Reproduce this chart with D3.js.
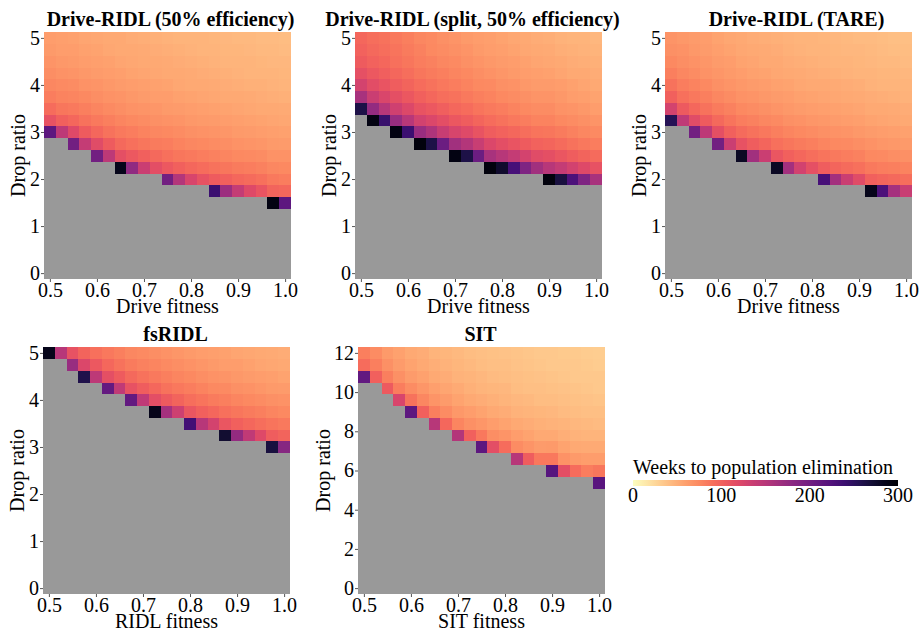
<!DOCTYPE html>
<html>
<head>
<meta charset="utf-8">
<script src="https://cdn.jsdelivr.net/npm/d3@7"></script>
<style>
  body { margin: 0; background: #fff; }
  svg { display: block; }
  text { font-family: "Liberation Serif", "Times New Roman", serif; fill: #000; }
</style>
</head>
<body>
<svg id="chart" width="921" height="634"></svg>
<script>
// Grid of simulated parameter values
const fitnessLevels = [0.5, 0.525, 0.55, 0.575, 0.6, 0.625, 0.65, 0.675, 0.7, 0.725, 0.75,
                       0.775, 0.8, 0.825, 0.85, 0.875, 0.9, 0.925, 0.95, 0.975, 1.0];
const dropRatios = [0, 0.25, 0.5, 0.75, 1, 1.25, 1.5, 1.75, 2, 2.25, 2.5,
                    2.75, 3, 3.25, 3.5, 3.75, 4, 4.25, 4.5, 4.75, 5];
const sitDropRatios = [0, 0.6, 1.2, 1.8, 2.4, 3, 3.6, 4.2, 4.8, 5.4, 6,
                       6.6, 7.2, 7.8, 8.4, 9, 9.6, 10.2, 10.8, 11.4, 12];

// Axis tick labels
const fitnessTicks = [0.5, 0.6, 0.7, 0.8, 0.9, 1.0];
const dropTicks = [0, 1, 2, 3, 4, 5];
const sitDropTicks = [0, 2, 4, 6, 8, 10, 12];
const legendTicks = [0, 100, 200, 300];

// For each fitness column: index of the lowest drop ratio that eliminates the population,
// and the weeks to elimination from that drop ratio upward. Lower drop ratios fail (grey).
const ridl50Start = [12, 12, 11, 11, 10, 10, 9, 9, 9, 9, 8, 8, 8, 8, 7, 7, 7, 7, 7, 6, 6];
const ridl50Weeks = [
  [215, 112, 92, 82, 76, 71, 67, 64, 62],
  [145, 100, 86, 78, 73, 69, 65, 62, 60],
  [200, 120, 96, 84, 77, 72, 67, 64, 61, 59],
  [140, 104, 88, 80, 74, 69, 65, 62, 59, 57],
  [200, 118, 96, 84, 77, 71, 67, 63, 60, 58, 56],
  [145, 104, 88, 80, 73, 69, 65, 61, 59, 56, 55],
  [285, 114, 94, 84, 77, 71, 67, 63, 60, 57, 55, 54],
  [178, 106, 90, 81, 74, 69, 65, 61, 58, 56, 54, 52],
  [135, 100, 86, 78, 72, 67, 63, 60, 57, 55, 53, 51],
  [115, 94, 83, 76, 70, 66, 62, 59, 56, 54, 52, 50],
  [200, 106, 90, 81, 74, 69, 64, 61, 58, 55, 53, 51, 49],
  [152, 100, 86, 78, 72, 67, 63, 59, 56, 54, 52, 50, 48],
  [125, 96, 84, 76, 70, 65, 61, 58, 55, 53, 51, 49, 47],
  [112, 92, 81, 74, 68, 64, 60, 57, 54, 52, 50, 48, 47],
  [240, 104, 88, 79, 72, 67, 63, 59, 56, 53, 51, 49, 47, 46],
  [168, 100, 86, 77, 71, 66, 62, 58, 55, 52, 50, 48, 46, 45],
  [140, 96, 83, 75, 69, 64, 60, 57, 54, 51, 49, 47, 46, 44],
  [120, 93, 81, 73, 67, 63, 59, 56, 53, 50, 48, 47, 45, 44],
  [110, 90, 79, 72, 66, 62, 58, 55, 52, 50, 48, 46, 44, 43],
  [290, 98, 84, 76, 69, 64, 60, 57, 54, 51, 49, 47, 45, 44, 43],
  [215, 95, 82, 74, 68, 63, 59, 56, 53, 50, 48, 46, 45, 43, 42]
];

const splitStart = [14, 13, 13, 12, 12, 11, 11, 11, 10, 10, 10, 9, 9, 9, 9, 9, 8, 8, 8, 8, 8];
const splitWeeks = [
  [262, 160, 128, 113, 104, 99, 95],
  [290, 175, 135, 117, 106, 99, 94, 91],
  [242, 150, 124, 110, 101, 95, 91, 88],
  [290, 172, 132, 114, 103, 96, 90, 87, 84],
  [240, 148, 121, 107, 98, 91, 86, 83, 80],
  [292, 170, 130, 111, 100, 92, 86, 82, 79, 76],
  [262, 155, 123, 106, 96, 88, 83, 79, 75, 73],
  [205, 138, 115, 101, 91, 85, 80, 76, 72, 70],
  [290, 165, 126, 107, 96, 88, 82, 77, 73, 70, 67],
  [262, 152, 119, 102, 92, 84, 78, 74, 70, 67, 64],
  [205, 136, 111, 97, 87, 80, 75, 71, 67, 64, 62],
  [292, 160, 122, 103, 92, 84, 78, 73, 69, 65, 62, 60],
  [275, 150, 116, 99, 88, 81, 75, 70, 66, 63, 60, 58],
  [232, 140, 110, 95, 85, 78, 72, 68, 64, 61, 58, 56],
  [190, 128, 104, 91, 81, 75, 70, 65, 62, 59, 56, 54],
  [165, 118, 99, 87, 78, 72, 67, 63, 60, 57, 54, 52],
  [292, 150, 114, 97, 86, 78, 72, 67, 63, 59, 56, 53, 51],
  [265, 140, 108, 93, 83, 75, 69, 65, 61, 57, 54, 51, 49],
  [228, 130, 103, 89, 79, 72, 67, 62, 59, 55, 52, 50, 48],
  [190, 120, 98, 85, 76, 70, 65, 60, 57, 54, 51, 49, 47],
  [160, 112, 93, 81, 73, 67, 62, 58, 55, 52, 50, 47, 45]
];

const tareStart = [13, 13, 12, 12, 11, 11, 10, 10, 10, 9, 9, 9, 9, 8, 8, 8, 8, 7, 7, 7, 7];
const tareWeeks = [
  [255, 128, 100, 88, 80, 74, 70, 67],
  [143, 105, 90, 82, 76, 71, 68, 65],
  [200, 118, 96, 85, 78, 72, 68, 65, 63],
  [145, 104, 89, 80, 74, 69, 66, 63, 61],
  [200, 114, 94, 83, 76, 70, 66, 63, 60, 58],
  [135, 100, 87, 79, 72, 67, 64, 61, 58, 56],
  [280, 112, 93, 82, 75, 69, 65, 61, 58, 56, 54],
  [165, 102, 88, 79, 72, 67, 63, 59, 57, 54, 52],
  [135, 97, 85, 76, 70, 65, 61, 58, 55, 53, 51],
  [280, 108, 90, 80, 73, 67, 63, 59, 56, 54, 52, 50],
  [163, 100, 86, 77, 70, 65, 61, 58, 55, 52, 50, 49],
  [130, 95, 83, 75, 68, 63, 59, 56, 53, 51, 49, 48],
  [113, 91, 80, 72, 66, 62, 58, 55, 52, 50, 48, 47],
  [232, 102, 87, 77, 70, 65, 60, 57, 54, 51, 49, 47, 46],
  [163, 97, 84, 75, 68, 63, 59, 56, 53, 50, 48, 46, 45],
  [135, 93, 81, 73, 67, 62, 58, 54, 52, 49, 47, 45, 44],
  [118, 90, 79, 71, 65, 60, 57, 53, 51, 48, 46, 45, 43],
  [285, 100, 84, 75, 68, 63, 58, 55, 52, 49, 47, 45, 44, 43],
  [228, 97, 82, 73, 66, 61, 57, 54, 51, 48, 46, 44, 43, 42],
  [162, 94, 80, 71, 65, 60, 56, 53, 50, 48, 46, 44, 42, 41],
  [137, 91, 78, 70, 64, 59, 55, 52, 49, 47, 45, 43, 42, 41]
];

const fsridlStart = [20, 20, 19, 18, 18, 17, 17, 16, 16, 15, 15, 15, 14, 14, 14, 13, 13, 13, 13, 12, 12];
const fsridlWeeks = [
  [285],
  [150],
  [172, 112],
  [260, 122, 98],
  [145, 106, 90],
  [210, 114, 95, 85],
  [142, 104, 89, 80],
  [212, 112, 94, 83, 76],
  [143, 102, 88, 79, 73],
  [285, 115, 95, 84, 77, 71],
  [162, 105, 89, 80, 73, 68],
  [133, 98, 85, 77, 71, 66],
  [235, 108, 91, 81, 74, 68, 64],
  [150, 100, 87, 78, 71, 66, 62],
  [128, 95, 83, 75, 69, 64, 60],
  [272, 108, 90, 80, 73, 67, 62, 59],
  [175, 100, 86, 77, 70, 65, 61, 57],
  [142, 95, 83, 74, 68, 63, 59, 56],
  [120, 91, 80, 72, 66, 61, 57, 54],
  [265, 103, 87, 77, 70, 64, 60, 56, 53],
  [185, 98, 84, 75, 68, 63, 58, 55, 52]
];

const sitStart = [18, 18, 17, 16, 15, 15, 14, 14, 13, 13, 12, 12, 12, 11, 11, 11, 10, 10, 10, 10, 9];
const sitWeeks = [
  [212, 92, 80],
  [100, 80, 72],
  [105, 80, 70, 64],
  [125, 82, 70, 63, 59],
  [215, 88, 72, 63, 58, 54],
  [100, 76, 66, 59, 55, 52],
  [150, 80, 67, 60, 55, 51, 48],
  [95, 72, 63, 57, 52, 49, 46],
  [152, 77, 65, 58, 53, 49, 46, 44],
  [100, 70, 61, 55, 50, 47, 44, 42],
  [215, 85, 66, 58, 52, 48, 45, 42, 40],
  [115, 71, 61, 54, 50, 46, 43, 41, 39],
  [92, 67, 58, 52, 48, 45, 42, 40, 38],
  [150, 72, 61, 54, 49, 45, 42, 40, 38, 37],
  [102, 67, 58, 52, 47, 44, 41, 39, 37, 36],
  [85, 63, 55, 50, 46, 42, 40, 38, 36, 35],
  [220, 85, 64, 55, 49, 45, 42, 39, 37, 35, 34],
  [115, 68, 58, 51, 47, 43, 40, 38, 36, 35, 33],
  [92, 64, 55, 49, 45, 42, 39, 37, 35, 34, 33],
  [82, 61, 53, 48, 44, 41, 38, 36, 35, 33, 32],
  [218, 86, 62, 53, 47, 43, 40, 37, 35, 34, 32, 31]
];

// Layout
const W = 247, H = 247;
const FONT = 20;
const SERIF = '"Liberation Serif", "Times New Roman", serif';
const failColor = "#999999";
const colour = d3.scaleSequential(t => d3.interpolateMagma(1 - t)).domain([0, 300]);

const panels = [
  { title: "Drive-RIDL (50% efficiency)", xLabel: "Drive fitness", start: ridl50Start, weeks: ridl50Weeks,
    ys: dropRatios, yTicks: dropTicks, left: 44, top: 32, titleDx: 3, yTitleGap: 19 },
  { title: "Drive-RIDL (split, 50% efficiency)", xLabel: "Drive fitness", start: splitStart, weeks: splitWeeks,
    ys: dropRatios, yTicks: dropTicks, left: 355, top: 32, titleDx: -6, yTitleGap: 19 },
  { title: "Drive-RIDL (TARE)", xLabel: "Drive fitness", start: tareStart, weeks: tareWeeks,
    ys: dropRatios, yTicks: dropTicks, left: 665, top: 32, titleDx: 8, yTitleGap: 19 },
  { title: "fsRIDL", xLabel: "RIDL fitness", start: fsridlStart, weeks: fsridlWeeks,
    ys: dropRatios, yTicks: dropTicks, left: 43, top: 347, titleDx: 9, yTitleGap: 19 },
  { title: "SIT", xLabel: "SIT fitness", start: sitStart, weeks: sitWeeks,
    ys: sitDropRatios, yTicks: sitDropTicks, left: 358, top: 347, titleDx: -1, yTitleGap: 28 }
];

const svg = d3.select("#chart");

panels.forEach(p => {
  const g = svg.append("g");
  const xStep = fitnessLevels[1] - fitnessLevels[0];
  const yStep = p.ys[1] - p.ys[0];
  const x = d3.scaleLinear()
    .domain([fitnessLevels[0] - xStep / 2, fitnessLevels[fitnessLevels.length - 1] + xStep / 2])
    .range([p.left, p.left + W]);
  const y = d3.scaleLinear()
    .domain([p.ys[0] - yStep / 2, p.ys[p.ys.length - 1] + yStep / 2])
    .range([p.top + H, p.top]);

  const cells = [];
  fitnessLevels.forEach((f, c) => {
    p.ys.forEach((d, r) => {
      const k = r - p.start[c];
      cells.push({ f, d, v: k >= 0 ? p.weeks[c][k] : null });
    });
  });

  g.append("g").selectAll("rect").data(cells).join("rect")
    .attr("x", d => x(d.f - xStep / 2))
    .attr("y", d => y(d.d + yStep / 2))
    .attr("width", d => x(d.f + xStep / 2) - x(d.f - xStep / 2) + 0.4)
    .attr("height", d => y(d.d - yStep / 2) - y(d.d + yStep / 2) + 0.4)
    .attr("fill", d => d.v == null ? failColor : colour(d.v))
    .attr("shape-rendering", "crispEdges");

  const xAxis = g.append("g")
    .attr("transform", `translate(0,${p.top + H})`)
    .call(d3.axisBottom(x).tickValues(fitnessTicks).tickFormat(d3.format(".1f")).tickSize(3).tickPadding(1));
  const yAxis = g.append("g")
    .attr("transform", `translate(${p.left},0)`)
    .call(d3.axisLeft(y).tickValues(p.yTicks).tickFormat(d3.format("d")).tickSize(3).tickPadding(1));
  [xAxis, yAxis].forEach(a => {
    a.attr("font-family", SERIF).attr("font-size", FONT);
    a.select(".domain").remove();
    a.selectAll(".tick line").attr("stroke", "#555");
    a.selectAll(".tick text").style("font-family", SERIF).attr("fill", "#000");
  });

  g.append("text")
    .attr("x", p.left + W / 2 + p.titleDx)
    .attr("y", p.top - 6)
    .attr("text-anchor", "middle")
    .attr("font-size", FONT)
    .attr("font-weight", "bold")
    .text(p.title);

  g.append("text")
    .attr("x", p.left + W / 2)
    .attr("y", p.top + H + 34)
    .attr("text-anchor", "middle")
    .attr("font-size", FONT)
    .text(p.xLabel);

  g.append("text")
    .attr("transform", `translate(${p.left - p.yTitleGap},${p.top + H / 2}) rotate(-90)`)
    .attr("text-anchor", "middle")
    .attr("font-size", FONT)
    .text("Drop ratio");
});

// Colour bar legend
const lx = d3.scaleLinear().domain([0, 300]).range([633, 898]);
const defs = svg.append("defs");
const grad = defs.append("linearGradient").attr("id", "weeksGrad")
  .attr("x1", "0%").attr("x2", "100%").attr("y1", "0%").attr("y2", "0%");
d3.range(0, 1.0001, 0.05).forEach(t => {
  grad.append("stop").attr("offset", `${t * 100}%`).attr("stop-color", colour(t * 300));
});
const leg = svg.append("g");
leg.append("text")
  .attr("x", 633).attr("y", 474)
  .attr("font-size", FONT)
  .text("Weeks to population elimination");
leg.append("rect")
  .attr("x", lx(0)).attr("y", 480)
  .attr("width", lx(300) - lx(0)).attr("height", 6)
  .attr("fill", "url(#weeksGrad)");
leg.selectAll(".lt").data(legendTicks).join("text")
  .attr("class", "lt")
  .attr("x", d => lx(d)).attr("y", 502)
  .attr("text-anchor", "middle")
  .attr("font-size", FONT)
  .text(d => d);
</script>
</body>
</html>
